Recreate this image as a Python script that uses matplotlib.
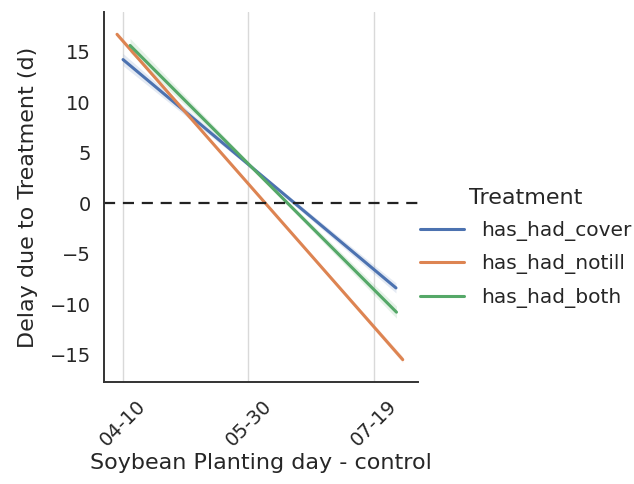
import numpy as np
import matplotlib.pyplot as plt
import seaborn as sns

# planting day (day of year) and fitted delay for each treatment
treatments = ["has_had_cover", "has_had_notill", "has_had_both"]
x_start = [100.0, 97.6, 102.8]
x_end = [208.8, 211.5, 209.0]
y_start = [14.2, 16.7, 15.6]
y_end = [-8.4, -15.5, -10.8]
ci_start = [0.6, 0.25, 0.7]    # half width of confidence band at each end
ci_mid = [0.15, 0.08, 0.15]
ci_end = [0.5, 0.3, 0.6]

tick_days = [100, 150, 200]
tick_labels = ["04-10", "05-30", "07-19"]
colors = sns.color_palette("deep")[:3]

sns.set_style("white")
plt.rcParams['font.family'] = ['DejaVu Sans']

fig = plt.figure(figsize=(6.34, 4.84), dpi=100)
ax = fig.add_axes([0.164, 0.211, 0.495, 0.764])

for i, name in enumerate(treatments):
    xs = [x_start[i], (x_start[i] + x_end[i]) / 2, x_end[i]]
    ys = [y_start[i], (y_start[i] + y_end[i]) / 2, y_end[i]]
    cis = [ci_start[i], ci_mid[i], ci_end[i]]
    lo = [y - c for y, c in zip(ys, cis)]
    hi = [y + c for y, c in zip(ys, cis)]
    ax.fill_between(xs, lo, hi, color=colors[i], alpha=0.15, linewidth=0)
    ax.plot([x_start[i], x_end[i]], [y_start[i], y_end[i]], color=colors[i],
            linewidth=2.2, label=name)

ax.axhline(0, color="#222222", linestyle="--", linewidth=1.6, dashes=(5, 3.5))

ax.set_xlim(92.4, 217.5)
ax.set_ylim(-17.7, 18.9)
ax.set_xticks(tick_days)
ax.set_xticklabels(tick_labels, rotation=45, fontsize=14)
ax.set_yticks([-15, -10, -5, 0, 5, 10, 15])
ax.tick_params(axis='y', labelsize=14, pad=6)
ax.tick_params(axis='x', pad=7)
ax.grid(axis='x', color="#d9d9d9", linewidth=1)
ax.set_axisbelow(True)
sns.despine(ax=ax)
for s in ["left", "bottom"]:
    ax.spines[s].set_color("#333333")
    ax.spines[s].set_linewidth(1.4)

ax.set_xlabel("Soybean Planting day - control", fontsize=16, labelpad=2)
ax.set_ylabel("Delay due to Treatment (d)", fontsize=16, labelpad=8)

leg = fig.legend(loc="center left", bbox_to_anchor=(0.634, 0.488), frameon=False,
                 title="Treatment", fontsize=14.5, title_fontsize=16,
                 handlelength=2.2, labelspacing=0.66, handletextpad=0.85)

fig.savefig("out.png", dpi=100)
